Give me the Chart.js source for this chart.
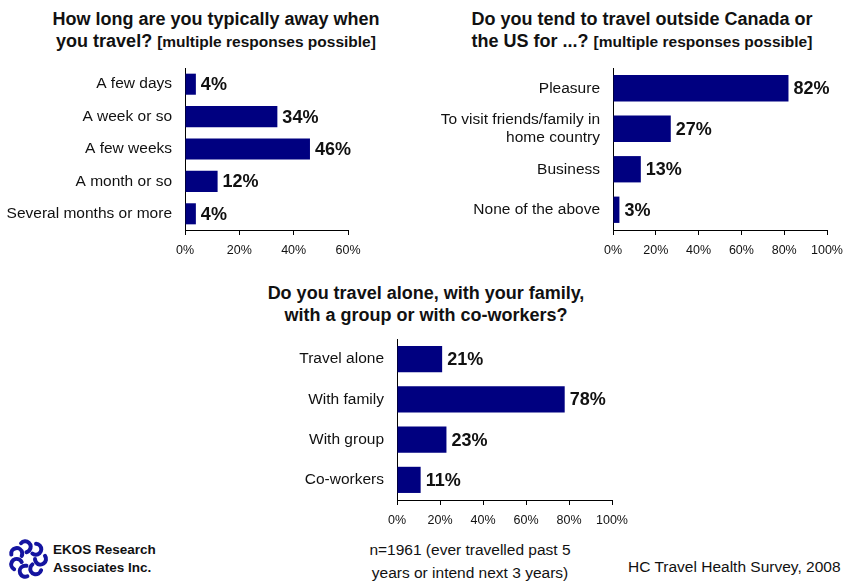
<!DOCTYPE html>
<html>
<head>
<meta charset="utf-8">
<script src="https://cdn.jsdelivr.net/npm/chart.js@4.4.0/dist/chart.umd.min.js"></script>
<style>
  html, body { margin: 0; padding: 0; background: #fff; }
  #page { position: relative; width: 849px; height: 581px; overflow: hidden; font-family: "Liberation Sans", Arial, sans-serif; color: #111; }
  .box { position: absolute; }
  .title { position: absolute; text-align: center; font-weight: bold; font-size: 18px; line-height: 22px; white-space: nowrap; }
  .title small { font-size: 15.5px; }
  .foot { position: absolute; white-space: nowrap; }
</style>
</head>
<body>
<div id="page">
  <div class="title" style="left:16px; top:8px; width:400px;">How long are you typically away when<br>you travel? <small>[multiple responses possible]</small></div>
  <div class="title" style="left:442px; top:8px; width:400px;">Do you tend to travel outside Canada or<br>the US for ...? <small>[multiple responses possible]</small></div>
  <div class="title" style="left:226px; top:282px; width:400px;">Do you travel alone, with your family,<br>with a group or with co-workers?</div>

  <div class="box" style="left:0; top:60px; width:420px; height:200px;"><canvas id="awayChart"></canvas></div>
  <div class="box" style="left:420px; top:60px; width:429px; height:200px;"><canvas id="purposeChart"></canvas></div>
  <div class="box" style="left:250px; top:330px; width:400px; height:200px;"><canvas id="companyChart"></canvas></div>

  <canvas id="logo" width="46" height="44" style="position:absolute; left:5px; top:537px;"></canvas>
  <div class="foot" style="left:53px; top:541px; font-weight:bold; font-size:13.5px; line-height:18px;">EKOS Research<br>Associates Inc.</div>
  <div class="foot" style="left:320px; top:538px; width:300px; text-align:center; font-size:15.5px; line-height:23px;">n=1961 (ever travelled past 5<br>years or intend next 3 years)</div>
  <div class="foot" style="left:628px; top:556px; font-size:15.5px; line-height:22px;">HC Travel Health Survey, 2008</div>
</div>

<script>
// How long are you typically away
const awayLabels = ['A few days', 'A week or so', 'A few weeks', 'A month or so', 'Several months or more'];
const awayValues = [4, 34, 46, 12, 4];

// Reasons for travel outside Canada / US
const purposeLabels = ['Pleasure', ['To visit friends/family in', 'home country'], 'Business', 'None of the above'];
const purposeValues = [82, 27, 13, 3];

// Who people travel with
const companyLabels = ['Travel alone', 'With family', 'With group', 'Co-workers'];
const companyValues = [21, 78, 23, 11];

const BAR_COLOR = '#000080';
const FONT = '"Liberation Sans", Arial, sans-serif';

// writes "NN%" just past the end of each bar
const valueLabels = {
    id: 'valueLabels',
    afterDatasetsDraw(chart) {
        const ctx = chart.ctx;
        const meta = chart.getDatasetMeta(0);
        const data = chart.data.datasets[0].data;
        ctx.save();
        ctx.font = 'bold 18px ' + FONT;
        ctx.fillStyle = '#111';
        ctx.textAlign = 'left';
        ctx.textBaseline = 'middle';
        meta.data.forEach((bar, i) => {
            ctx.fillText(data[i] + '%', bar.x + 5, bar.y + 1);
        });
        ctx.restore();
    }
};

function renderBarChart(canvasId, labels, values, max, yWidth, padTop, padRight) {
    const ctx = document.getElementById(canvasId).getContext('2d');
    return new Chart(ctx, {
        type: 'bar',
        data: {
            labels: labels,
            datasets: [{
                data: values,
                backgroundColor: BAR_COLOR,
                borderWidth: 0,
                barPercentage: 0.65,
                categoryPercentage: 1
            }]
        },
        options: {
            indexAxis: 'y',
            responsive: true,
            maintainAspectRatio: false,
            animation: false,
            layout: { padding: { top: padTop, right: padRight, left: 0, bottom: 0 } },
            plugins: {
                legend: { display: false },
                tooltip: { enabled: false }
            },
            scales: {
                x: {
                    min: 0,
                    max: max,
                    afterFit: (scale) => {
                        scale.height = 30;
                        scale.paddingLeft = 0;
                        scale.paddingRight = 0;
                    },
                    ticks: {
                        stepSize: 20,
                        padding: 8,
                        color: '#111',
                        font: { family: FONT, size: 12.5 },
                        callback: (v) => v + '%'
                    },
                    grid: { display: true, drawOnChartArea: false, drawTicks: true, tickLength: 5, color: '#000' },
                    border: { display: true, color: '#000', width: 1 }
                },
                y: {
                    afterFit: (scale) => {
                        scale.width = yWidth;
                        scale.paddingTop = 0;
                        scale.paddingBottom = 0;
                    },
                    ticks: {
                        padding: 5,
                        color: '#111',
                        font: { family: FONT, size: 15.5, lineHeight: 1.15 }
                    },
                    grid: { display: false },
                    border: { display: true, color: '#000', width: 1 }
                }
            }
        },
        plugins: [valueLabels]
    });
}

renderBarChart('awayChart', awayLabels, awayValues, 60, 185, 8, 72);
renderBarChart('purposeChart', purposeLabels, purposeValues, 100, 193, 8, 22);
renderBarChart('companyChart', companyLabels, companyValues, 100, 147, 9, 38);

// ring of hooked loops used as the company mark
(function drawLogo() {
    const c = document.getElementById('logo').getContext('2d');
    c.strokeStyle = '#1414a0';
    c.lineWidth = 4;
    c.lineCap = 'round';
    const cx = 23, cy = 22, n = 7;
    for (let i = 0; i < n; i++) {
        const a = i * 2 * Math.PI / n;
        c.beginPath();
        c.arc(cx + Math.cos(a) * 12.5, cy + Math.sin(a) * 12.5, 5.5, a - Math.PI * 0.2, a + Math.PI * 1.0);
        c.stroke();
    }
})();
</script>
</body>
</html>
